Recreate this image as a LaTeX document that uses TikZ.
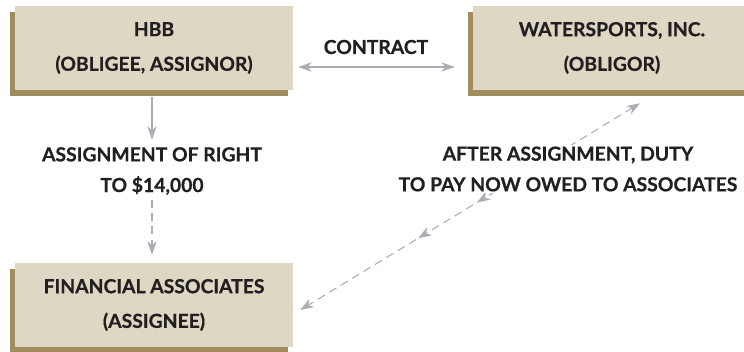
\documentclass[tikz,border=0pt]{standalone}
\usepackage{fontspec}
\setmainfont{Lato}[BoldFeatures={FakeBold=0.6}]
\usetikzlibrary{arrows.meta,calc,positioning,shadows,decorations.markings}
\definecolor{boxfill}{RGB}{222,215,196}
\definecolor{boxshadow}{RGB}{160,140,92}
\definecolor{arrowgray}{RGB}{172,172,180}
\definecolor{textdark}{RGB}{35,31,32}

\begin{document}
\begin{tikzpicture}
  [x=0.75pt,y=-0.75pt,
   >={Stealth[length=10pt,width=7pt,inset=3pt]},
   every node/.style={font=\bfseries\fontsize{14.5}{26}\selectfont,text=textdark,align=center},
   party/.style={fill=boxfill,minimum width=208.5pt,minimum height=63pt,
     general shadow={fill=boxshadow,shadow xshift=-3.75pt,shadow yshift=-4.5pt}},
   tag/.style={fill=white,inner sep=1.5pt,font=\bfseries\fontsize{14.5}{23}\selectfont},
   link/.style={draw=arrowgray,line width=0.8pt,->},
   dashlink/.style={dash pattern=on 6pt off 4pt}]
  \useasboundingbox (0,0) rectangle (744,352);
  % parties
  \node[party] (hbb) at (154,48) {HBB\\(OBLIGEE, ASSIGNOR)};
  \node[party] (ws) at (612,48) {WATERSPORTS, INC.\\(OBLIGOR)};
  \node[party] (fa) at (154,305) {FINANCIAL ASSOCIATES\\(ASSIGNEE)};
  % contract
  \node (contract) at (376,47) {CONTRACT};
  \draw[link,<->] ($(hbb.east)+(5,19)$) -- ($(ws.west)+(-18,19)$);
  % assignment
  \node[tag] (right) at (152,171) {ASSIGNMENT OF RIGHT\\TO \$14,000};
  \draw[link,shorten <=5pt,shorten >=4pt] (hbb.south -| right.north) -- (right.north);
  \draw[link,dashlink,shorten <=2pt,shorten >=6pt] (right.south) -- (fa.north -| right.south);
  % duty
  \draw[link,<->,dashlink,
        decoration={markings,mark=at position 0.48 with {\arrow{>}},
                    mark=at position 0.653 with {\arrow{>}}},
        postaction={decorate}]
    ($(ws.south)+(28,13)$) -- ($(fa.east)+(7,5)$);
  \node[tag] (duty) at (568,169) {AFTER ASSIGNMENT, DUTY\\TO PAY NOW OWED TO ASSOCIATES};
\end{tikzpicture}
\end{document}
